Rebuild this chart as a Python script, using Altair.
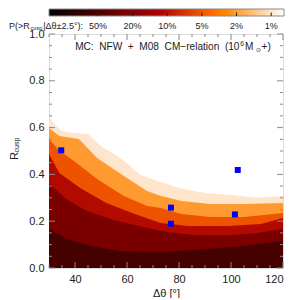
import altair as alt
import pandas as pd

# ---- data ----
prob_labels = ["50%", "20%", "10%", "5%", "2%", "1%"]
level_colors = ["#450000", "#7a0000", "#b30a00", "#ee5400", "#ff9a30", "#ffe5cc"]

# upper boundary of each filled contour region (dtheta [deg], R_cusp)
c50_x = [30, 37, 46, 57, 73, 86, 105, 120]
c50_y = [0.167, 0.124, 0.094, 0.073, 0.068, 0.077, 0.094, 0.115]
c20_x = [30, 36, 44.6, 55, 65, 75, 86, 99, 110, 120]
c20_y = [0.363, 0.299, 0.244, 0.205, 0.178, 0.155, 0.141, 0.140, 0.150, 0.167]
c10_x = [30, 34, 42, 52, 63, 73, 83.5, 99, 111.5, 120]
c10_y = [0.487, 0.406, 0.342, 0.278, 0.231, 0.192, 0.179, 0.179, 0.188, 0.214]
c5_x = [30, 34, 39.6, 48.5, 58.8, 67.7, 73, 81, 92, 105, 120]
c5_y = [0.551, 0.500, 0.457, 0.380, 0.308, 0.265, 0.256, 0.231, 0.218, 0.218, 0.235]
c2_x = [30, 34, 41.5, 48.5, 58.8, 67.7, 73, 81, 92, 105, 120]
c2_y = [0.598, 0.564, 0.551, 0.470, 0.393, 0.329, 0.308, 0.286, 0.274, 0.274, 0.278]
c1_x = [30, 32, 35, 40, 45, 50, 55, 59, 65, 70, 80, 90, 100, 110, 120]
c1_y = [0.650, 0.615, 0.585, 0.577, 0.573, 0.520, 0.487, 0.457, 0.400, 0.378, 0.342, 0.321, 0.312, 0.300, 0.308]

obs_x = [34.7, 76.9, 76.9, 101.5, 102.6]
obs_y = [0.503, 0.258, 0.189, 0.229, 0.419]

x_major = [40, 60, 80, 100, 120]
x_minor = [30, 35, 45, 50, 55, 65, 70, 75, 85, 90, 95, 105, 110, 115]
y_major = [0.0, 0.2, 0.4, 0.6, 0.8, 1.0]
y_minor = [0.05, 0.1, 0.15, 0.25, 0.3, 0.35, 0.45, 0.5, 0.55, 0.65, 0.7, 0.75, 0.85, 0.9, 0.95]

FONT = "Liberation Sans"
W, H = 234, 234
CBW = 235
CB_TOP, CB_BOT = -25, -18
FRAME = "#8a8a8a"

x_scale = alt.Scale(domain=[30, 120], nice=False, zero=False)
y_scale = alt.Scale(domain=[0, 1], nice=False, zero=False)
x_axis = alt.Axis(values=x_major, tickSize=0, domain=False, grid=False, title="Δθ [°]",
                  labelFontSize=11, titleFontSize=11, titleFontWeight="normal",
                  labelFont=FONT, titleFont=FONT, labelColor="#222", titleColor="#222",
                  labelPadding=5, titlePadding=3)
y_axis = alt.Axis(values=y_major, format=".1f", tickSize=0, domain=False, grid=False, title=None,
                  labelFontSize=11, labelFont=FONT, labelColor="#222", labelPadding=5)

# ---- contour areas (lightest first, darkest last) ----
bounds = [(c1_x, c1_y), (c2_x, c2_y), (c5_x, c5_y), (c10_x, c10_y), (c20_x, c20_y), (c50_x, c50_y)]
cols = level_colors[::-1]
layers = []
for (xs, ys), col in zip(bounds, cols):
    df = pd.DataFrame({"x": xs, "y": ys})
    layers.append(
        alt.Chart(df).mark_area(color=col, opacity=1, interpolate="linear").encode(
            x=alt.X("x:Q", scale=x_scale, axis=x_axis),
            y=alt.Y("y:Q", scale=y_scale, axis=y_axis),
        )
    )

pts = alt.Chart(pd.DataFrame({"x": obs_x, "y": obs_y})).mark_square(
    color="#0000ff", size=36, opacity=1).encode(
    x=alt.X("x:Q", scale=x_scale, axis=x_axis),
    y=alt.Y("y:Q", scale=y_scale, axis=y_axis),
)
layers.append(pts)

# inward ticks on all four sides
def xt(vals, L):
    d = pd.DataFrame({"v": vals})
    b = alt.Chart(d).mark_rule(color=FRAME, strokeWidth=1)
    enc = dict(x=alt.X("v:Q", scale=x_scale, axis=x_axis))
    return [b.encode(y=alt.value(0), y2=alt.value(L), **enc),
            b.encode(y=alt.value(H), y2=alt.value(H - L), **enc)]

def yt(vals, L):
    d = pd.DataFrame({"v": vals})
    b = alt.Chart(d).mark_rule(color=FRAME, strokeWidth=1)
    enc = dict(y=alt.Y("v:Q", scale=y_scale, axis=y_axis))
    return [b.encode(x=alt.value(0), x2=alt.value(L), **enc),
            b.encode(x=alt.value(W), x2=alt.value(W - L), **enc)]

layers += xt(x_major, 6) + xt(x_minor, 3) + yt(y_major, 6) + yt(y_minor, 3)

one = pd.DataFrame({"a": [0]})
nb = "\u00a0"

def txt(s, x, y, size, align="left", angle=0, baseline="middle"):
    return alt.Chart(one).mark_text(text=s, font=FONT, fontSize=size, color="#222",
                                    align=align, baseline=baseline, angle=angle).encode(
        x=alt.value(x), y=alt.value(y))

ann = "MC:" + nb * 2 + "NFW" + nb * 2 + "+" + nb * 2 + "M08" + nb * 2 + "CM−relation" + nb * 2 + "(10"
layers += [
    txt(ann, 190.5, 13, 10.1, align="right"),
    txt("6", 191.2, 9.5, 6.5, align="left"),
    txt("M", 196, 13, 10.1, align="left"),
    txt("⊙", 209, 15.5, 6, align="center"),
    txt("+)", 212.5, 13, 10.1, align="left"),
    txt("R", -34.5, 122, 11, align="center", angle=270),
    txt("cusp", -32, 111, 7, align="center", angle=270),
]

main = alt.layer(*layers)

# ---- colour bar (drawn above the plot, own x scale for the levels) ----
lv = pd.DataFrame({"lvl": list(range(len(prob_labels))), "label": prob_labels})
cb_scale = alt.Scale(domain=[-1.41, 5.34], nice=False, zero=False)
grad = alt.Gradient(
    gradient="linear", x1=0, x2=1, y1=0, y2=0,
    stops=[alt.GradientStop(color="#000000", offset=0),
           alt.GradientStop(color="#ae0000", offset=0.47),
           alt.GradientStop(color="#ff6a00", offset=0.69),
           alt.GradientStop(color="#ff8700", offset=0.75),
           alt.GradientStop(color="#ffffff", offset=1)])
bar = alt.Chart(one).mark_rect(color=grad, stroke=FRAME, strokeWidth=1).encode(
    x=alt.value(0), x2=alt.value(CBW), y=alt.value(CB_TOP), y2=alt.value(CB_BOT))
cticks = alt.Chart(lv).mark_rule(color="#222", strokeWidth=1).encode(
    x=alt.X("lvl:Q", scale=cb_scale, axis=None), y=alt.value(CB_BOT - 3.5), y2=alt.value(CB_BOT))
clabels = alt.Chart(lv).mark_text(font=FONT, fontSize=9, color="#222", baseline="middle").encode(
    x=alt.X("lvl:Q", scale=cb_scale, axis=None), y=alt.value(-8.5), text="label:N")
cb = alt.layer(
    bar, cticks, clabels,
    txt("P(>R", -40, -8.5, 9),
    txt("cusp", -18.4, -6.5, 5.5),
    txt("|Δθ±2.5°):", -5.8, -8.5, 9),
)

chart = alt.layer(main, cb).resolve_scale(x="independent").properties(
    width=W, height=H, padding=0).configure_view(
    stroke=FRAME, strokeWidth=1).configure(background="white")

chart.save("out.html", embed_options={"renderer": "svg", "actions": False})
